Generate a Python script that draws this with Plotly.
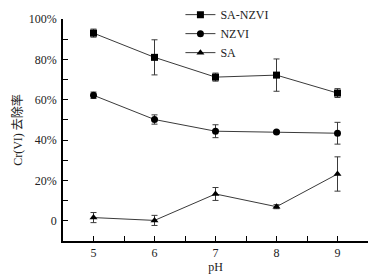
import plotly.graph_objects as go

ph = [5, 6, 7, 8, 9]
sa_nzvi = [93.0, 81.0, 71.2, 72.2, 63.3]
sa_nzvi_err = [2.0, 8.7, 2.0, 8.0, 2.2]
nzvi = [62.2, 50.2, 44.4, 44.0, 43.4]
nzvi_err = [1.6, 2.3, 3.2, 0.6, 5.4]
sa = [1.6, 0.2, 13.3, 7.0, 23.2]
sa_err = [2.5, 2.5, 3.2, 1.0, 8.5]

series_names = ["SA-NZVI", "NZVI", "SA"]
y_tickvals = [0, 20, 40, 60, 80, 100]
y_ticktext = ["0", "20%", "40%", "60%", "80%", "100%"]
x_tickvals = [5, 6, 7, 8, 9]

font_main = "Liberation Serif, Noto Sans CJK SC, serif"
line_col = "#3a3a3a"

fig = go.Figure()
for name, ys, errs, sym in [
    (series_names[0], sa_nzvi, sa_nzvi_err, "square"),
    (series_names[1], nzvi, nzvi_err, "circle"),
    (series_names[2], sa, sa_err, "triangle-up"),
]:
    fig.add_trace(go.Scatter(
        x=ph, y=ys, name=name, mode="lines+markers",
        line=dict(color=line_col, width=1),
        marker=dict(symbol=sym, size=7, color="black"),
        error_y=dict(type="data", array=errs, visible=True,
                     color=line_col, thickness=1, width=3),
    ))

# page body has an 8px margin, so the figure is sized to fill 8..389 / 8..277
fig.update_layout(
    width=381, height=269,
    margin=dict(l=55, r=21, t=11, b=36, autoexpand=False),
    paper_bgcolor="white", plot_bgcolor="white",
    font=dict(family=font_main, size=12, color="#222"),
    showlegend=True,
    legend=dict(x=0.385, y=1.085, xanchor="left", yanchor="top",
                bgcolor="rgba(0,0,0,0)", font=dict(size=12),
                itemwidth=30, tracegroupgap=0),
    xaxis=dict(
        range=[4.5, 9.5], tickvals=x_tickvals, ticks="inside",
        ticklen=5, tickwidth=1, tickcolor="black",
        minor=dict(tickvals=[4.5, 5.5, 6.5, 7.5, 8.5, 9.5], ticks="inside", ticklen=5, tickcolor="black"),
        showline=True, linecolor="black", linewidth=1.5, showgrid=False,
        zeroline=False, title=dict(text="pH", standoff=0, font=dict(size=12)),
        ticklabelstandoff=0, automargin=False,
    ),
    yaxis=dict(
        range=[-10, 100], tickvals=y_tickvals, ticktext=y_ticktext,
        ticks="inside", ticklen=5, tickwidth=1, tickcolor="black",
        minor=dict(tickvals=[10, 30, 50, 70, 90], ticks="inside", ticklen=5, tickcolor="black"),
        showline=True, linecolor="black", linewidth=1.5, showgrid=False,
        zeroline=False, title=dict(text="Cr(VI) 去除率", standoff=4, font=dict(size=12)),
        ticklabelstandoff=2, automargin=False,
    ),
)

fig.write_html("out.html")
